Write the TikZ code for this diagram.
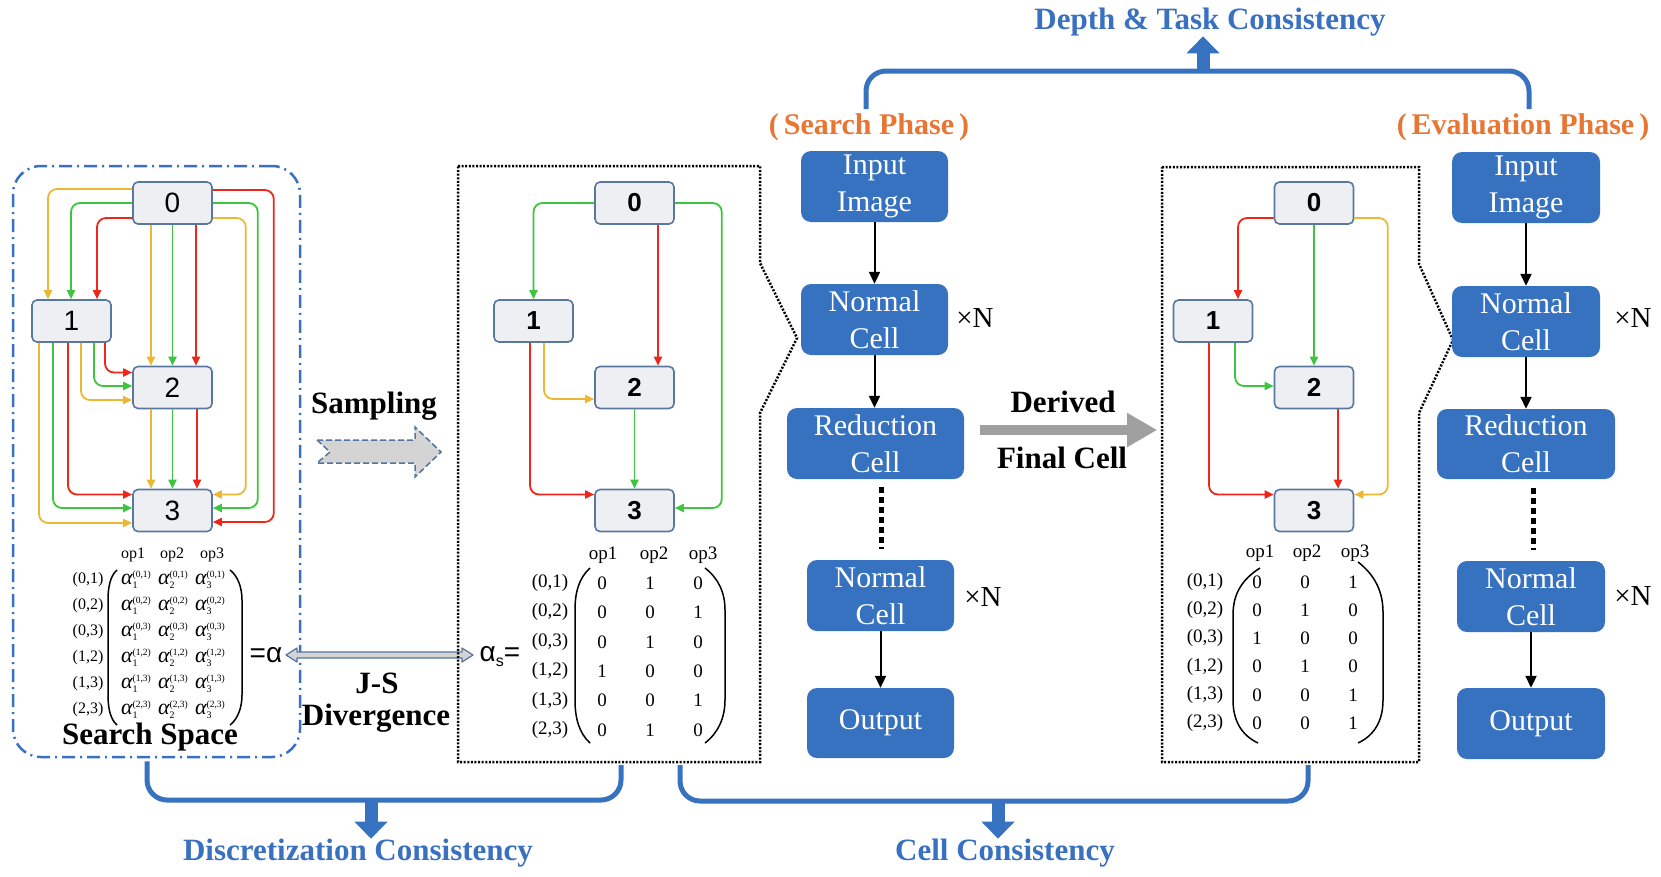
\documentclass[tikz,border=0pt]{standalone}
\usepackage{fontspec}
\setmainfont{Liberation Serif}
\newfontfamily\sansf{Liberation Sans}
\usetikzlibrary{arrows.meta,calc}
\newcommand\aent[2]{{\fontsize{22}{22}\selectfont\itshape α}\raisebox{-4pt}{\makebox[0pt][l]{\fontsize{10}{10}\selectfont #1}}\raisebox{7pt}{\fontsize{9.5}{10}\selectfont (#2)}}
\definecolor{cblue}{RGB}{55,114,192}
\definecolor{tblue}{RGB}{58,112,192}
\definecolor{corange}{RGB}{232,117,50}
\definecolor{nborder}{RGB}{88,120,160}
\definecolor{nfill}{RGB}{238,239,242}
\definecolor{cyel}{RGB}{236,183,50}
\definecolor{cgrn}{RGB}{62,196,62}
\definecolor{cred}{RGB}{240,38,26}
\definecolor{arrowbd}{RGB}{84,116,156}
\definecolor{arrowfill}{RGB}{212,212,212}
\definecolor{dgray}{RGB}{160,160,160}
\tikzset{
  gnode/.style={draw=nborder, fill=nfill, line width=1.6pt, rounded corners=5pt, minimum width=79pt, minimum height=42pt, inner sep=0pt},
  gnodeR/.style={gnode, font=\sansf\fontsize{28}{30}\selectfont},
  gnodeB/.style={gnode, font=\sansf\bfseries\fontsize{26}{30}\selectfont},
  edg/.style={line width=1.8pt, rounded corners=9pt, -{Triangle[width=8pt,length=9pt]}},
  eY/.style={edg, color=cyel},
  eG/.style={edg, color=cgrn},
  eR/.style={edg, color=cred},
  cellbox/.style={fill=cblue, rounded corners=10pt, text=white, align=center, inner sep=0pt, minimum width=147pt, minimum height=71pt, font=\fontsize{30}{37}\selectfont},
  flow/.style={line width=2pt, -{Triangle[width=11pt,length=12pt]}},
  vdots/.style={line width=5pt, dash pattern=on 6pt off 4pt},
  bracket/.style={draw=cblue, line width=5pt, rounded corners=20pt},
  fat/.style={draw=cblue, line width=13pt, -{Triangle[width=32pt,length=17pt]}},
  blab/.style={font=\bfseries\fontsize{31}{36}\selectfont, inner sep=0pt},
  bluelab/.style={blab, text=tblue},
  phase/.style={font=\bfseries\fontsize{30}{36}\selectfont, text=corange, inner sep=0pt},
  smallm/.style={inner sep=0pt, font=\fontsize{16}{18}\selectfont},
  bigm/.style={inner sep=0pt, font=\fontsize{19}{22}\selectfont},
  dotbox/.style={draw=black, line width=2.5pt, dash pattern=on 2pt off 1.6pt},
  paren/.style={line width=1.5pt},
  xn/.style={font=\fontsize{29}{34}\selectfont, inner sep=0pt},
  ssbox/.style={draw=tblue, line width=2.5pt, dash pattern=on 13pt off 5pt on 2pt off 5pt, rounded corners=28pt},
}
\begin{document}
\begin{tikzpicture}[x=1pt,y=-1pt]
\useasboundingbox (0,0) rectangle (1661,876);

% ---------- search space box ----------
\node[ssbox, minimum width=287pt, minimum height=591pt, inner sep=0pt] (SSB) at (156.5,461.5) {};

% left graph
\node[gnodeR] (L0) at (172.5,203) {0};
\node[gnodeR] (L1) at (71.5,321) {1};
\node[gnodeR] (L2) at (172.5,387.5) {2};
\node[gnodeR] (L3) at (172.5,510.5) {3};
\draw[eY] ([yshift=14pt]L0.west) -| ([xshift=-23.5pt]L1.north);
\draw[eG] (L0.west) -| ([xshift=-0.5pt]L1.north);
\draw[eR] ([yshift=-15pt]L0.west) -| ([xshift=25.5pt]L1.north);
\draw[eY] ([xshift=-21.5pt]L0.south) -- ([xshift=-21.5pt]L2.north);
\draw[eG] (L0.south) -- (L2.north);
\draw[eR] ([xshift=23.5pt]L0.south) -- ([xshift=23.5pt]L2.north);
\draw[eR] ([yshift=13pt]L0.east) -- ++(61,0) |- ([yshift=-11.5pt]L3.east);
\draw[eG] (L0.east) -- ++(45,0) |- ([yshift=2.5pt]L3.east);
\draw[eY] ([yshift=-15pt]L0.east) -- ++(33,0) |- ([yshift=16pt]L3.east);
\draw[eR] ([xshift=33.5pt]L1.south) |- ([yshift=15pt]L2.west);
\draw[eG] ([xshift=22.5pt]L1.south) |- ([yshift=1.5pt]L2.west);
\draw[eY] ([xshift=9.5pt]L1.south) |- ([yshift=-12.5pt]L2.west);
\draw[eR] ([xshift=-3.5pt]L1.south) |- ([yshift=16pt]L3.west);
\draw[eG] ([xshift=-18.5pt]L1.south) |- ([yshift=2.5pt]L3.west);
\draw[eY] ([xshift=-32.5pt]L1.south) |- ([yshift=-12.5pt]L3.west);
\draw[eY] ([xshift=-21.5pt]L2.south) -- ([xshift=-21.5pt]L3.north);
\draw[eG] (L2.south) -- (L3.north);
\draw[eR] ([xshift=24.5pt]L2.south) -- ([xshift=24.5pt]L3.north);

% left matrix
\node[smallm] (LH1) at (133,555) {op1};
\node[smallm] (LH2) at (172,555) {op2};
\node[smallm] (LH3) at (212,555) {op3};
\foreach \p/\q [count=\i from 0] in {0/1,0/2,0/3,1/2,1/3,2/3}{
  \node[smallm] (LRl\i) at (88,580+26*\i) {(\p,\q)};
  \foreach \k/\x in {1/136,2/173,3/210}
    \node[smallm] (LE\i-\k) at (\x,580+26*\i) {\aent{\k}{\p,\q}};
}
\draw[paren] (117,570) .. controls (110,576) and (108,588) .. (108,600) -- (108,695) .. controls (108,707) and (110,719) .. (117,725);
\draw[paren] (230,570) .. controls (238,576) and (242,588) .. (242,600) -- (242,695) .. controls (242,707) and (238,719) .. (230,725);
\node[inner sep=0pt, font=\sansf\fontsize{28}{30}\selectfont] (EQA) at (266,655) {=α};
\node[blab] (SSL) at (150,737) {Search Space};

% ---------- sampling / JS ----------
\node[blab] (SAM) at (374,406) {Sampling};
\draw[draw=arrowbd, fill=arrowfill, line width=1.5pt, dash pattern=on 6pt off 3pt]
  (317,440) -- (415,440) -- (415,427) -- (441,452) -- (415,477) -- (415,463) -- (317,463) -- (330,452) -- cycle;
\draw[draw=arrowbd, fill=arrowfill, line width=1.2pt, line join=round]
  (286,655) -- (297,648) -- (297,652) -- (462,652) -- (462,648) -- (473,655) -- (462,662) -- (462,658) -- (297,658) -- (297,662) -- cycle;
\node[blab] (JS) at (377,683) {J-S};
\node[blab] (DIV) at (376,718) {Divergence};

% ---------- middle box ----------
\draw[dotbox] (458,166) -- (760,166) -- (760,263) -- (797,338) -- (760,413) -- (760,762) -- (458,762) -- cycle;
\coordinate (MB) at (609,762);
\node[gnodeB] (M0) at (634.5,203) {0};
\node[gnodeB] (M1) at (533.5,321) {1};
\node[gnodeB] (M2) at (634.5,387.5) {2};
\node[gnodeB] (M3) at (634.5,510.5) {3};
\draw[eG] (M0.west) -| (M1.north);
\draw[eR] ([xshift=23.5pt]M0.south) -- ([xshift=23.5pt]M2.north);
\draw[eG] (M0.east) -- ++(47,0) |- ([yshift=2.5pt]M3.east);
\draw[eY] ([xshift=10.5pt]M1.south) |- ([yshift=-11.5pt]M2.west);
\draw[eR] ([xshift=-3.5pt]M1.south) |- ([yshift=16pt]M3.west);
\draw[eG] (M2.south) -- (M3.north);

\node[bigm] (MH1) at (603,555) {op1};
\node[bigm] (MH2) at (654,555) {op2};
\node[bigm] (MH3) at (703,555) {op3};
\foreach \p/\q/\a/\b/\c [count=\i from 0] in {0/1/0/1/0,0/2/0/0/1,0/3/0/1/0,1/2/1/0/0,1/3/0/0/1,2/3/0/1/0}{
  \node[bigm] (MRl\i) at (550,583+29.4*\i) {(\p,\q)};
  \node[bigm] (ME\i-1) at (602,583+29.4*\i) {\a};
  \node[bigm] (ME\i-2) at (650,583+29.4*\i) {\b};
  \node[bigm] (ME\i-3) at (698,583+29.4*\i) {\c};
}
\draw[paren] (590,568) .. controls (579,578) and (575,592) .. (575,610) -- (575,700) .. controls (575,718) and (579,733) .. (590,743);
\draw[paren] (705,568) .. controls (718,578) and (725,592) .. (725,610) -- (725,700) .. controls (725,718) and (718,733) .. (705,743);
\node[inner sep=0pt, font=\sansf\fontsize{28}{30}\selectfont] (AS) at (500,657) {α\raisebox{-5pt}{\fontsize{16}{18}\selectfont s}=};

% ---------- search phase column ----------
\node[phase] (SP) at (869,127) {(\,Search Phase\,)};
\node[cellbox] (SIn) at (874.5,186.5) {Input\\Image};
\node[cellbox] (SN1) at (874.5,319.5) {Normal\\Cell};
\node[cellbox, minimum width=177pt] (SR) at (875.5,443.5) {Reduction\\Cell};
\node[cellbox] (SN2) at (880.5,595.5) {Normal\\Cell};
\node[cellbox, minimum height=70pt] (SOut) at (880.5,723) {Output};
\draw[flow] (SIn) -- (SN1);
\draw[flow] (SN1.south) -- (SN1.south |- SR.north);
\draw[flow] (SN2) -- (SOut);
\coordinate (sd1) at ($(SR.south)+(6,8)$);
\draw[vdots] (sd1) -- ++(0,62);
\node[xn] (SX1) at (975,318) {×N};
\node[xn] (SX2) at (983,597) {×N};

% derived arrow
\node[blab] (DER) at (1063,402) {Derived};
\node[blab] (FC) at (1062,458) {Final Cell};
\draw[draw=dgray, line width=10pt, -{Triangle[width=32pt,length=30pt]}] ([xshift=16pt,yshift=13.5pt]SR.east) -- ++(177,0);

% ---------- right box ----------
\draw[dotbox] (1162,167) -- (1419,167) -- (1419,264) -- (1453,340) -- (1419,413) -- (1419,762) -- (1162,762) -- cycle;
\coordinate (RB) at (1290.5,762);
\node[gnodeB] (R0) at (1314,203) {0};
\node[gnodeB] (R1) at (1213,321) {1};
\node[gnodeB] (R2) at (1314,387.5) {2};
\node[gnodeB] (R3) at (1314,510.5) {3};
\draw[eR] ([yshift=-15pt]R0.west) -| ([xshift=25pt]R1.north);
\draw[eG] (R0.south) -- (R2.north);
\draw[eY] ([yshift=-15pt]R0.east) -- ++(33.5,0) |- ([yshift=16pt]R3.east);
\draw[eG] ([xshift=22pt]R1.south) |- ([yshift=1.5pt]R2.west);
\draw[eR] ([xshift=-4pt]R1.south) |- ([yshift=16pt]R3.west);
\draw[eR] ([xshift=24pt]R2.south) -- ([xshift=24pt]R3.north);

\node[bigm] (RH1) at (1260,553) {op1};
\node[bigm] (RH2) at (1307,553) {op2};
\node[bigm] (RH3) at (1355,553) {op3};
\foreach \p/\q/\a/\b/\c [count=\i from 0] in {0/1/0/0/1,0/2/0/1/0,0/3/1/0/0,1/2/0/1/0,1/3/0/0/1,2/3/0/0/1}{
  \node[bigm] (RRl\i) at (1205,582+28.2*\i) {(\p,\q)};
  \node[bigm] (RE\i-1) at (1257,582+28.2*\i) {\a};
  \node[bigm] (RE\i-2) at (1305,582+28.2*\i) {\b};
  \node[bigm] (RE\i-3) at (1353,582+28.2*\i) {\c};
}
\draw[paren] (1260,568) .. controls (1241,580) and (1233,595) .. (1233,615) -- (1233,700) .. controls (1233,720) and (1241,735) .. (1258,743);
\draw[paren] (1358,562) .. controls (1375,575) and (1383,592) .. (1383,612) -- (1383,700) .. controls (1383,720) and (1375,735) .. (1358,743);

% ---------- evaluation column ----------
\node[phase] (EP) at (1523,127) {(\,Evaluation Phase\,)};
\node[cellbox, minimum width=148pt] (EIn) at (1526,187.5) {Input\\Image};
\node[cellbox, minimum width=148pt] (EN1) at (1526,321.5) {Normal\\Cell};
\node[cellbox, minimum width=178pt, minimum height=70pt] (ER) at (1526,444) {Reduction\\Cell};
\node[cellbox, minimum width=148pt] (EN2) at (1531,596.5) {Normal\\Cell};
\node[cellbox, minimum width=148pt] (EOut) at (1531,723.5) {Output};
\draw[flow] (EIn) -- (EN1);
\draw[flow] (EN1) -- (ER);
\draw[flow] (EN2) -- (EOut);
\coordinate (ed1) at ($(ER.south)+(7,9)$);
\draw[vdots] (ed1) -- ++(0,62);
\node[xn] (EX1) at (1633,318) {×N};
\node[xn] (EX2) at (1633,596) {×N};

% ---------- consistency brackets ----------
\node[bluelab] (DT) at (1210,22) {Depth \& Task Consistency};
\coordinate (tb) at (1203,71);
\draw[bracket] ([xshift=-3pt,yshift=4pt]SP.north) |- (tb) -| ([xshift=6pt,yshift=4pt]EP.north);
\draw[fat] (tb) -- (tb |- DT.south);

\node[bluelab] (DC) at (358,853) {Discretization Consistency};
\node[bluelab] (CC) at (1005,853) {Cell Consistency};
\coordinate (bl) at (371,800);
\coordinate (br) at (998,801);
\draw[bracket] ([xshift=-9.5pt,yshift=-3pt]SSB.south) |- (bl) -| ([xshift=12pt,yshift=-3pt]MB);
\draw[bracket] ([xshift=71pt,yshift=-3pt]MB) |- (br) -| ([xshift=17.5pt,yshift=-3pt]RB);
\draw[fat] (bl) -- (bl |- DC.north);
\draw[fat] (br) -- (br |- CC.north);
\end{tikzpicture}
\end{document}
